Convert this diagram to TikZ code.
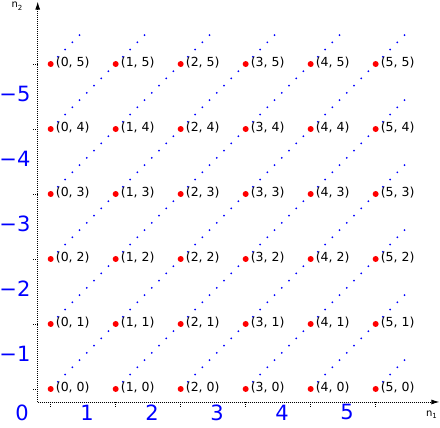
\documentclass[tikz,border=0pt]{standalone}
\usepackage{fontspec}
\setmainfont{DejaVu Sans}
\usetikzlibrary{arrows.meta}

\begin{document}
\begin{tikzpicture}[x=65bp,y=65bp,
     pair/.style={circle,fill=red,inner sep=0pt,minimum size=6bp},
     lab/.style={font=\fontsize{12.5bp}{14bp}\selectfont,anchor=west,
       inner sep=0pt,xshift=5bp,yshift=1bp},
     cls/.style={blue,line width=2bp,line cap=round,
       dash pattern=on 0pt off 10.214bp},
     num/.style={blue,font=\fontsize{21bp}{25bp}\selectfont,inner sep=0pt},
     axis/.style={line width=0.9bp,dash pattern=on 0.9bp off 1.1bp},
     axlab/.style={font=\fontsize{10bp}{12bp}\selectfont,inner sep=0pt}]
    \useasboundingbox (-0.78,-0.585) rectangle (5.99,5.985);
    % axes
    \coordinate (o) at (-0.2,-0.2);
    \coordinate (xend) at (5.98,-0.2);
    \coordinate (yend) at (-0.2,5.96);
    \draw[axis,-{Latex[length=8bp,width=5bp]}] (o) -- (xend);
    \draw[axis,-{Latex[length=8bp,width=5bp]}] (o) -- (yend);
    \node[axlab] (n1) at (5.86,-0.4) {n\raisebox{-0.4ex}{\fontsize{7bp}{8bp}\selectfont 1}};
    \node[axlab] (n2) at (-0.52,5.89) {n\raisebox{-0.4ex}{\fontsize{7bp}{8bp}\selectfont 2}};
    \foreach \i in {0,...,5} {
      \draw[axis] (\i,-0.2) -- (\i,-0.29);
      \draw[axis] (-0.2,\i) -- (-0.29,\i);
    }
    % grid of pairs
    \foreach \i in {0,...,5}
      \foreach \j in {0,...,5}
        \coordinate (g-\i-\j) at (\i,\j);
    % classes n1-n2=k
    \foreach \k in {0,...,5} {
      \coordinate (e-\k) at (5.5,{5.5-\k});
      \draw[cls] (g-\k-0) -- (e-\k);
      \node[num] (c-\k) at ({\k-0.44},-0.36) {\k};
    }
    \foreach \m in {1,...,5} {
      \coordinate (f-\m) at ({5.5-\m},5.5);
      \draw[cls] (g-0-\m) -- (f-\m);
      \node[num] (d-\m) at (-0.55,{\m-0.46}) {−\m};
    }
    \foreach \i in {0,...,5}
      \foreach \j in {0,...,5} {
        \node[pair] (p-\i-\j) at (g-\i-\j) {};
        \node[lab] (l-\i-\j) at (p-\i-\j.center) {(\i, \j)};
      }
  \end{tikzpicture}
\end{document}
